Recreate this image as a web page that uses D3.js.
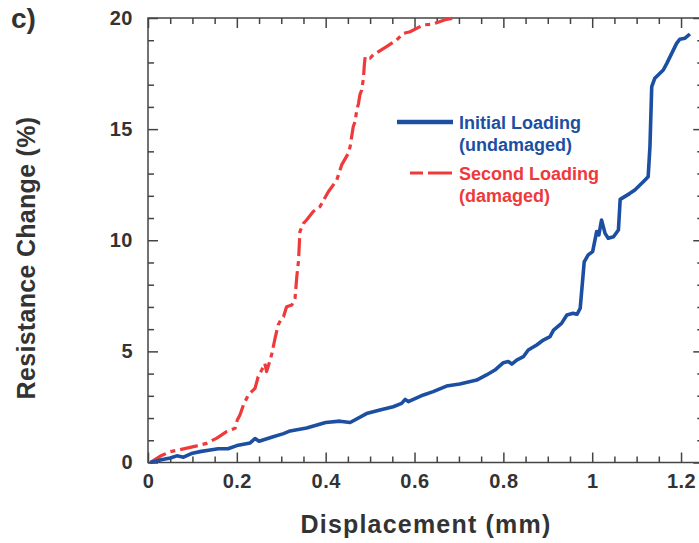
<!DOCTYPE html>
<html>
<head>
<meta charset="utf-8">
<script src="https://cdn.jsdelivr.net/npm/d3@7/dist/d3.min.js"></script>
<style>
  html, body { margin: 0; padding: 0; background: #fff; }
  svg { display: block; font-family: "Liberation Sans", Arial, Helvetica, sans-serif; }
</style>
</head>
<body>
<svg id="chart" width="699" height="543"></svg>
<script>
// Displacement (mm) / resistance change (%) for the initial loading (undamaged)
const initialX = [0.005,0.03,0.05,0.065,0.08,0.10,0.12,0.14,0.158,0.18,0.2,0.23,0.241,0.25,0.28,0.305,0.32,0.357,0.40,0.432,0.455,0.492,0.522,0.552,0.571,0.579,0.586,0.62,0.642,0.672,0.702,0.74,0.762,0.781,0.80,0.811,0.819,0.83,0.845,0.856,0.875,0.89,0.905,0.913,0.931,0.943,0.957,0.966,0.973,0.982,0.991,1.001,1.010,1.015,1.021,1.029,1.036,1.048,1.059,1.063,1.085,1.096,1.115,1.126,1.130,1.134,1.141,1.160,1.168,1.179,1.190,1.197,1.209,1.220];
const initialY = [0.0,0.12,0.2,0.3,0.24,0.42,0.5,0.56,0.62,0.62,0.76,0.88,1.08,0.96,1.15,1.3,1.42,1.55,1.8,1.86,1.8,2.2,2.36,2.51,2.66,2.84,2.74,3.04,3.19,3.44,3.53,3.71,3.94,4.16,4.49,4.54,4.43,4.61,4.76,5.06,5.29,5.51,5.66,5.96,6.26,6.64,6.71,6.67,6.94,9.03,9.34,9.49,10.39,10.24,10.91,10.31,10.09,10.16,10.46,11.84,12.11,12.26,12.63,12.86,14.21,16.91,17.29,17.66,17.96,18.41,18.86,19.04,19.09,19.28];

// Second loading (damaged)
const secondX = [0.005,0.027,0.05,0.072,0.11,0.132,0.155,0.177,0.196,0.201,0.207,0.215,0.226,0.241,0.248,0.256,0.263,0.267,0.275,0.279,0.286,0.293,0.301,0.305,0.312,0.324,0.331,0.335,0.339,0.342,0.35,0.357,0.372,0.387,0.398,0.406,0.425,0.436,0.451,0.455,0.462,0.466,0.47,0.474,0.477,0.481,0.485,0.487,0.489,0.50,0.507,0.537,0.56,0.575,0.59,0.62,0.639,0.65,0.672,0.691];
const secondY = [0.0,0.28,0.49,0.58,0.75,0.86,1.1,1.39,1.54,1.91,2.14,2.6,3.04,3.34,3.86,4.16,4.46,4.09,4.61,4.91,5.59,6.19,6.49,6.56,7.01,7.09,7.39,8.36,9.11,10.39,10.76,10.91,11.29,11.51,11.9,12.18,12.71,13.39,13.91,14.21,15.11,15.33,15.86,16.16,16.54,16.76,17.29,17.89,18.26,18.19,18.34,18.71,19.01,19.31,19.38,19.69,19.72,19.79,19.94,20.0];

const xTickValues = [0, 0.2, 0.4, 0.6, 0.8, 1, 1.2];
const xTickLabels = ["0", "0.2", "0.4", "0.6", "0.8", "1", "1.2"];
const yTickValues = [0, 5, 10, 15, 20];
const yTickLabels = ["0", "5", "10", "15", "20"];

const seriesNames = ["Initial Loading", "Second Loading"];
const seriesNotes = ["(undamaged)", "(damaged)"];

const blue = "#1c4fa2";
const red = "#ee3a3a";
const axisColor = "#444";
const textColor = "#333";

const svg = d3.select("#chart");
const plotLeft = 148, plotTop = 18, plotBottom = 462.5;

const x = d3.scaleLinear().domain([0, 1.25]).range([plotLeft, plotLeft + 1.25 * 444.2]);
const y = d3.scaleLinear().domain([0, 20]).range([plotBottom, plotTop]);
const plotRight = x(1.25);

const minorX = d3.range(0, 1.2501, 0.05).filter(v => Math.abs(v / 0.2 - Math.round(v / 0.2)) > 1e-6);
const minorY = d3.range(0, 20.001, 1).filter(v => v % 5 !== 0);

svg.append("defs").append("clipPath").attr("id", "plot-clip")
  .append("rect").attr("x", plotLeft).attr("y", plotTop - 2)
  .attr("width", plotRight - plotLeft).attr("height", plotBottom - plotTop + 4);

function styleAxis(g) {
  g.select(".domain").remove();
  g.selectAll(".tick line").attr("stroke", axisColor).attr("stroke-width", 1.5);
  g.selectAll("text").attr("fill", textColor).attr("font-size", 20).attr("font-weight", "bold")
    .attr("letter-spacing", 0.5);
}

// bottom axis: major ticks with labels, minor ticks without
svg.append("g").attr("transform", `translate(0,${plotBottom})`)
  .call(d3.axisBottom(x).tickValues(xTickValues).tickSize(-10).tickPadding(11.5)
    .tickFormat((d, i) => xTickLabels[i]))
  .call(styleAxis);
svg.append("g").attr("transform", `translate(0,${plotBottom})`)
  .call(d3.axisBottom(x).tickValues(minorX).tickSize(-6).tickFormat(""))
  .call(styleAxis);

// top axis (mirror ticks)
svg.append("g").attr("transform", `translate(0,${plotTop})`)
  .call(d3.axisTop(x).tickValues(xTickValues).tickSize(-10).tickFormat(""))
  .call(styleAxis);
svg.append("g").attr("transform", `translate(0,${plotTop})`)
  .call(d3.axisTop(x).tickValues(minorX).tickSize(-6).tickFormat(""))
  .call(styleAxis);

// left axis
svg.append("g").attr("transform", `translate(${plotLeft},0)`)
  .call(d3.axisLeft(y).tickValues(yTickValues).tickSize(-10).tickPadding(15)
    .tickFormat((d, i) => yTickLabels[i]))
  .call(styleAxis);
svg.append("g").attr("transform", `translate(${plotLeft},0)`)
  .call(d3.axisLeft(y).tickValues(minorY).tickSize(-6).tickFormat(""))
  .call(styleAxis);

// right axis (mirror ticks)
svg.append("g").attr("transform", `translate(${plotRight},0)`)
  .call(d3.axisRight(y).tickValues(yTickValues).tickSize(-10).tickFormat(""))
  .call(styleAxis);
svg.append("g").attr("transform", `translate(${plotRight},0)`)
  .call(d3.axisRight(y).tickValues(minorY).tickSize(-6).tickFormat(""))
  .call(styleAxis);

// frame
svg.append("rect").attr("x", plotLeft).attr("y", plotTop)
  .attr("width", plotRight - plotLeft).attr("height", plotBottom - plotTop)
  .attr("fill", "none").attr("stroke", axisColor).attr("stroke-width", 1.5);

const line = d3.line().x(d => x(d[0])).y(d => y(d[1]));
const initialData = initialX.map((v, i) => [v, initialY[i]]);
const secondData = secondX.map((v, i) => [v, secondY[i]]);

const plot = svg.append("g").attr("clip-path", "url(#plot-clip)");
plot.append("path").datum(secondData).attr("d", line)
  .attr("fill", "none").attr("stroke", red).attr("stroke-width", 3.2)
  .attr("stroke-dasharray", "18,5,5,5").attr("stroke-linejoin", "round");
plot.append("path").datum(initialData).attr("d", line)
  .attr("fill", "none").attr("stroke", blue).attr("stroke-width", 3.6)
  .attr("stroke-linejoin", "round");

// legend
const legend = svg.append("g");
legend.append("line").attr("x1", 397).attr("x2", 453).attr("y1", 122).attr("y2", 122)
  .attr("stroke", blue).attr("stroke-width", 4.5);
legend.append("line").attr("x1", 410).attr("x2", 452).attr("y1", 173).attr("y2", 173)
  .attr("stroke", red).attr("stroke-width", 3).attr("stroke-dasharray", "13,5,24");
const legendText = [
  { t: seriesNames[0], y: 129, c: blue },
  { t: seriesNotes[0], y: 151, c: blue },
  { t: seriesNames[1], y: 180, c: red },
  { t: seriesNotes[1], y: 202, c: red }
];
legend.selectAll("text.lg").data(legendText).join("text")
  .attr("class", "lg").attr("x", 459).attr("y", d => d.y)
  .attr("fill", d => d.c).attr("font-size", 18).attr("font-weight", "bold").text(d => d.t);

// axis titles
svg.append("text").attr("x", 426).attr("y", 533).attr("text-anchor", "middle")
  .attr("font-size", 25).attr("font-weight", "bold").attr("letter-spacing", 1.2)
  .attr("fill", textColor).text("Displacement (mm)");
svg.append("text").attr("transform", "translate(35,258) rotate(-90)").attr("text-anchor", "middle")
  .attr("font-size", 25).attr("font-weight", "bold").attr("letter-spacing", 0.3)
  .attr("fill", textColor).text("Resistance Change (%)");

// panel letter
svg.append("text").attr("x", 11).attr("y", 28).attr("font-size", 28).attr("font-weight", "bold")
  .attr("fill", textColor).text("c)");
</script>
</body>
</html>
